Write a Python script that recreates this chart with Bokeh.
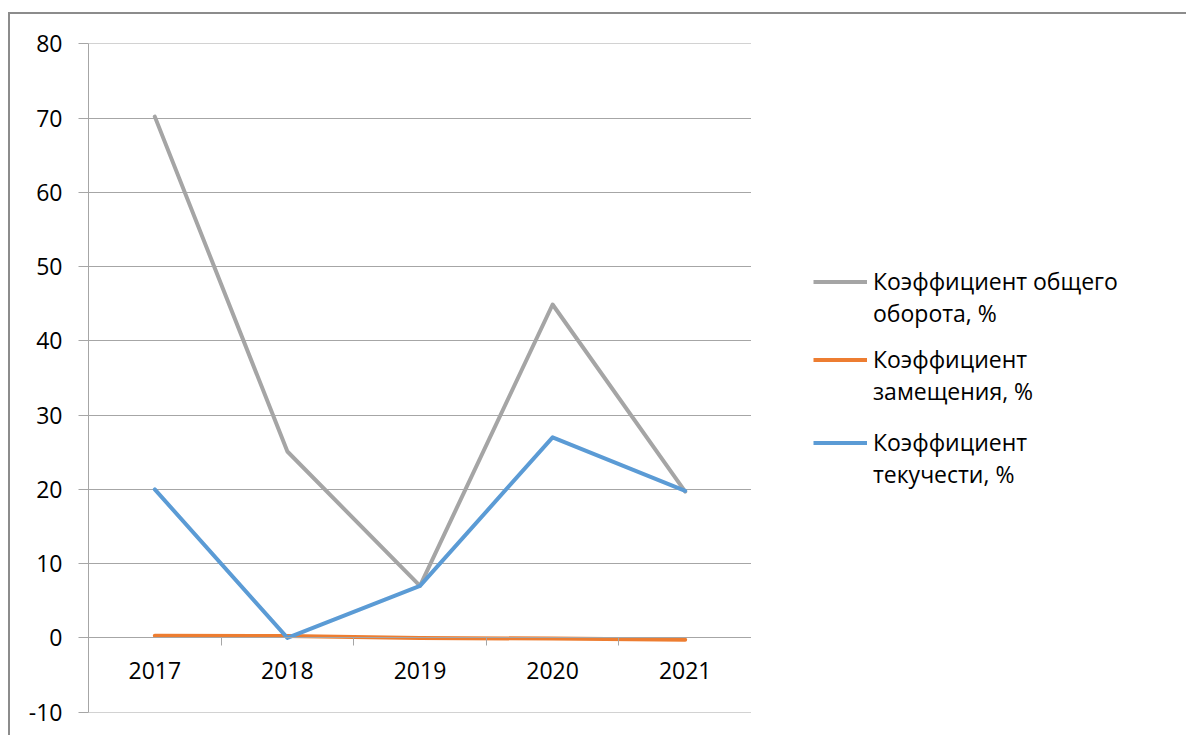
from bokeh.plotting import figure
from bokeh.layouts import row
from bokeh.models import (FixedTicker, LinearAxis, Grid, Legend, LegendItem,
                          Range1d, ColumnDataSource)
from bokeh.embed import file_html
from bokeh.resources import INLINE

# Data
years = ["2017", "2018", "2019", "2020", "2021"]
turnover_total = [70.2, 25.1, 7.0, 44.9, 19.7]      # Коэффициент общего оборота, %
replacement = [0.3, 0.25, 0.0, -0.1, -0.25]         # Коэффициент замещения, %
fluidity = [20.0, 0.0, 7.0, 27.0, 19.8]             # Коэффициент текучести, %
y_ticks = [-10, 0, 10, 20, 30, 40, 50, 60, 70, 80]

# legend texts, one list entry per printed line
series_labels = [["Коэффициент общего", "оборота, %"],
                 ["Коэффициент", "замещения, %"],
                 ["Коэффициент", "текучести, %"]]
series_colors = ["#A5A5A5", "#ED7D31", "#5B9BD5"]

FONT = "Open Sans"
FONT_SIZE = "23px"
AXIS_GREY = "#a6a6a6"
LINE_W = 4

# categories sit in the middle of unit-wide slots
x_pos = [i + 0.5 for i in range(len(years))]
slot_edges = list(range(len(years) + 1))

src = ColumnDataSource(dict(x=x_pos, total=turnover_total,
                            repl=replacement, fluid=fluidity))

# ---- plot area -------------------------------------------------------------
p = figure(width=741, height=721,
           x_range=Range1d(0, len(years)), y_range=Range1d(-10.05, 80.05),
           x_axis_location=None, y_axis_location=None,
           output_backend="svg", toolbar_location=None,
           min_border_left=78, min_border_top=29,
           min_border_right=0, min_border_bottom=23)
p.outline_line_color = None
p.center = [r for r in p.center if not isinstance(r, Grid)]

# value axis
y_ticker = FixedTicker(ticks=y_ticks)
yaxis = LinearAxis(ticker=y_ticker,
                   axis_line_color=AXIS_GREY, major_tick_line_color=AXIS_GREY,
                   major_tick_out=10, major_tick_in=0,
                   minor_tick_line_color=None,
                   major_label_overrides={-10: "-10"},
                   major_label_text_font=FONT,
                   major_label_text_font_size=FONT_SIZE,
                   major_label_text_color="black",
                   major_label_standoff=16)
p.add_layout(yaxis, "left")
p.add_layout(Grid(dimension=1, ticker=y_ticker, grid_line_color=AXIS_GREY,
                  grid_line_width=1))

# category axis crossing at zero: labels centred in slots,
# short tick marks on the slot boundaries
x_ticker = FixedTicker(ticks=x_pos, minor_ticks=slot_edges)
xaxis = LinearAxis(ticker=x_ticker, fixed_location=0,
                   axis_line_color=AXIS_GREY,
                   major_tick_line_color=None,
                   minor_tick_line_color=AXIS_GREY,
                   minor_tick_out=8, minor_tick_in=0,
                   major_tick_out=0, major_tick_in=0,
                   major_label_overrides={x: y for x, y in zip(x_pos, years)},
                   major_label_text_font=FONT,
                   major_label_text_font_size=FONT_SIZE,
                   major_label_text_color="black",
                   major_label_standoff=16)
p.add_layout(xaxis, "below")

line_kw = dict(source=src, line_width=LINE_W, line_join="round", line_cap="round")
p.line("x", "total", line_color=series_colors[0], **line_kw)
p.line("x", "repl", line_color=series_colors[1], **line_kw)
p.line("x", "fluid", line_color=series_colors[2], **line_kw)

# ---- legend panel ----------------------------------------------------------
pl = figure(width=435, height=721, x_range=Range1d(0, 1), y_range=Range1d(0, 1),
            x_axis_location=None, y_axis_location=None,
            output_backend="svg", toolbar_location=None,
            min_border=0)
pl.outline_line_color = None
pl.center = [r for r in pl.center if not isinstance(r, Grid)]

# swatch renderers carrying the series styles (their points lie outside the
# panel's ranges, so only the legend swatch shows), plus an invisible one
# for the second text line of each entry
off = dict(x=[5, 6], y=[5, 6])
swatches = [pl.line("x", "y", source=ColumnDataSource(off), line_color=c,
                    line_width=LINE_W) for c in series_colors]
blank = pl.line("x", "y", source=ColumnDataSource(off), line_alpha=0)

legend_bottoms = [383, 305, 222]
for sw, lines, bottom in zip(swatches, series_labels, legend_bottoms):
    lg = Legend(items=[LegendItem(label=lines[0], renderers=[sw]),
                       LegendItem(label=lines[1], renderers=[blank])],
                location=(62, bottom), orientation="vertical",
                label_text_font=FONT, label_text_font_size=FONT_SIZE,
                label_text_color="black",
                glyph_width=54, glyph_height=31, label_height=31,
                label_standoff=6, spacing=0, padding=0, margin=0,
                border_line_color=None, background_fill_alpha=0)
    pl.add_layout(lg, "center")

layout = row(p, pl)
layout.margin = (12, 0, 0, 8)
layout.styles = {"border-top": "2px solid #8c8c8c", "border-left": "2px solid #8c8c8c"}

open("out.html", "w").write(file_html(layout, INLINE))
